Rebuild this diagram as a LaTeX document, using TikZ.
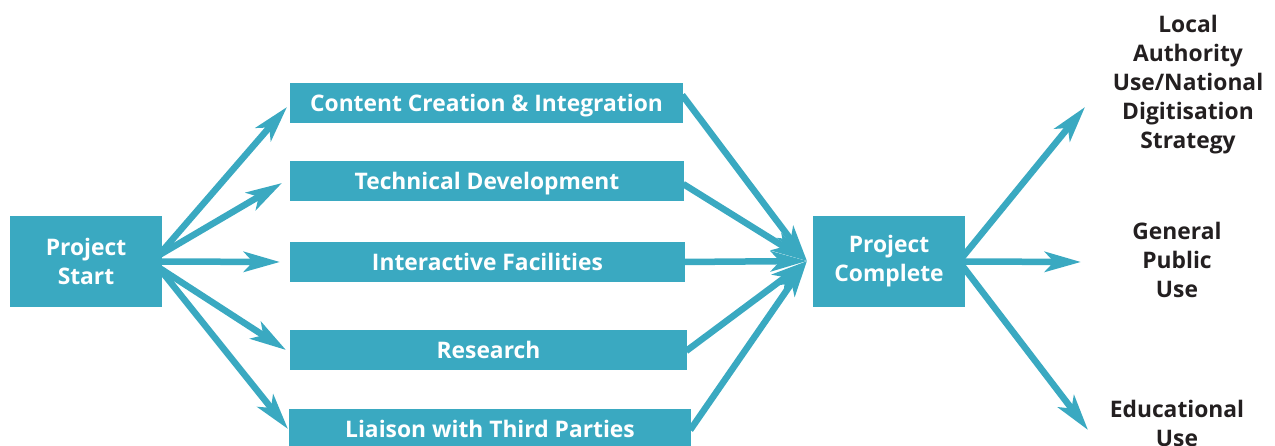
\documentclass[tikz,border=0pt]{standalone}
\usepackage{fontspec}
\setmainfont{Open Sans}
\usetikzlibrary{arrows.meta}
\definecolor{teal}{HTML}{3AA9C1}
\definecolor{ink}{HTML}{231F20}
\begin{document}
\begin{tikzpicture}[x=1pt,y=-1pt,
  box/.style={fill=teal,text=white,inner sep=0pt,align=center,
    font=\fontsize{22.8}{29}\selectfont\bfseries},
  bar/.style={box,minimum height=40pt,text height=17pt,text depth=0pt},
  lbl/.style={text=ink,inner sep=0pt,align=center,anchor=north,
    font=\fontsize{22.8}{29}\selectfont\bfseries},
  arr/.style={draw=teal,line width=6.5pt,
    -{Stealth[length=36pt,width=20pt,inset=9pt]}}]
\useasboundingbox (0,0) rectangle (1275,446);
\node[box,minimum width=152pt,minimum height=91pt] (start) at (86,261.5) {Project\\Start};
\node[bar,minimum width=393pt] (c1) at (486.5,103) {Content Creation \& Integration};
\node[bar,minimum width=394pt] (c2) at (487,181) {Technical Development};
\node[bar,minimum width=395pt] (c3) at (487.5,262) {Interactive Facilities};
\node[bar,minimum width=397pt] (c4) at (488.5,350) {Research};
\node[bar,minimum width=402pt] (c5) at (490,429) {Liaison with Third Parties};
\node[box,minimum width=152pt,minimum height=91pt] (done) at (889,261.5) {Project\\Complete};
\node[lbl] (o1) at (1188,15) {Local\\Authority\\Use/National\\Digitisation\\Strategy};
\node[lbl] (o2) at (1177,222) {General\\Public\\Use};
\node[lbl] (o3) at (1177,399.5) {Educational\\Use};
% tips
\coordinate (t1) at (287,107);
\coordinate (t2) at (282,183);
\coordinate (t3) at (280,262);
\coordinate (t4) at (286,350);
\coordinate (t5) at (288,429);
\coordinate (hub) at (807,261);
\coordinate (u1) at (1085,107);
\coordinate (u2) at (1081,262);
\coordinate (u3) at (1088,430);
\draw[arr] ([shift={(-2,-8)}]start.east) -- (t1);
\draw[arr] ([shift={(-2,-7)}]start.east) -- (t2);
\draw[arr] ([shift={(-2,0)}]start.east) -- (t3);
\draw[arr] ([shift={(-2,7)}]start.east) -- (t4);
\draw[arr] ([shift={(-2,8)}]start.east) -- (t5);
\draw[arr] ([shift={(-1,-8)}]c1.east) -- (hub);
\draw[arr] ([shift={(-1,3)}]c2.east) -- (hub);
\draw[arr] ([shift={(-1,0)}]c3.east) -- (hub);
\draw[arr] ([shift={(-1,1)}]c4.east) -- (hub);
\draw[arr] ([shift={(-1,1)}]c5.east) -- (hub);
\draw[arr] ([shift={(-3,-4)}]done.east) -- (u1);
\draw[arr] ([shift={(-3,0)}]done.east) -- (u2);
\draw[arr] ([shift={(-3,4)}]done.east) -- (u3);
\end{tikzpicture}
\end{document}
